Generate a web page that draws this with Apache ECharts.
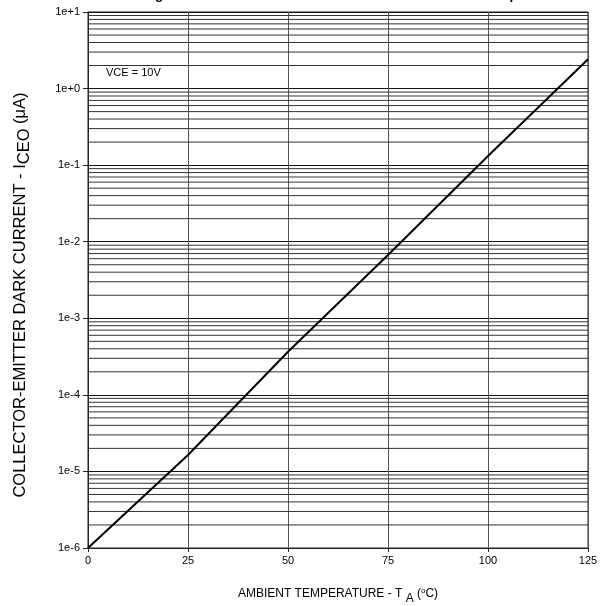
<!DOCTYPE html>
<html>
<head>
<meta charset="utf-8">
<script src="https://cdn.jsdelivr.net/npm/echarts@6/dist/echarts.min.js"></script>
<style>
  html, body { margin: 0; padding: 0; background: #fff; }
  #chart { width: 603px; height: 606px; }
</style>
</head>
<body>
<div id="chart"></div>
<script>
// Data
const temps = [0, 25, 50, 75, 100, 125];                 // ambient temperature, °C
const iceo  = [1e-6, 1.64e-5, 3.66e-4, 6.7e-3, 0.1315, 2.41]; // dark current, µA
const xTicks = [0, 25, 50, 75, 100, 125];
const yMin = 1e-6, yMax = 10;
const minorMultipliers = [2, 3, 4, 5, 6, 7, 8, 9];
const decadeExponents = [-6, -5, -4, -3, -2, -1, 0];

// minor log gridline values (2..9 x 10^k)
const minorGrid = [];
decadeExponents.forEach(e => {
  minorMultipliers.forEach(m => minorGrid.push([0, m * Math.pow(10, e)]));
});

const font = 'Liberation Sans, Arial, sans-serif';
const chart = echarts.init(document.getElementById('chart'), null, { renderer: 'canvas' });

chart.setOption({
  backgroundColor: '#fff',
  animation: false,
  grid: {
    left: 88, right: 15, top: 12, bottom: 58,
    outerBoundsMode: 'none',
    containLabel: false,
    show: true, borderColor: '#222', borderWidth: 1, backgroundColor: 'transparent'
  },
  xAxis: {
    type: 'value',
    min: 0, max: 125, interval: 25,
    name: '{n|AMBIENT TEMPERATURE - T}{sub| A}{n| (}{sup|o}{n|C)}',
    nameLocation: 'middle',
    nameGap: 39,
    nameTextStyle: {
      fontFamily: font, color: '#000',
      rich: {
        n: { fontFamily: font, fontSize: 12, color: '#000', lineHeight: 14 },
        sub: { fontFamily: font, fontSize: 12, color: '#000', padding: [10, 0, 0, 0], lineHeight: 14 },
        sup: { fontFamily: font, fontSize: 8, color: '#000', padding: [0, 0, 6, 0], lineHeight: 10 }
      }
    },
    axisLine: { show: true, lineStyle: { color: '#222', width: 1 } },
    axisTick: { show: true, length: 4, lineStyle: { color: '#222' } },
    axisLabel: { fontFamily: font, fontSize: 11, color: '#000', margin: 7,
      formatter: v => xTicks.includes(v) ? String(v) : '' },
    splitLine: { show: true, lineStyle: { color: '#555', width: 1 } }
  },
  yAxis: {
    type: 'log',
    logBase: 10,
    min: yMin, max: yMax,
    splitNumber: 7,
    name: '{n|COLLECTOR-EMITTER DARK CURRENT - I}{sub|CEO}{n| (μA)}',
    nameLocation: 'middle',
    nameGap: 59,
    nameTextStyle: {
      fontFamily: font, color: '#000',
      padding: [0, 30, 0, 0],
      rich: {
        n: { fontFamily: font, fontSize: 16.5, color: '#000', lineHeight: 18 },
        sub: { fontFamily: font, fontSize: 16.5, color: '#000', padding: [9, 0, 0, 0], lineHeight: 18 }
      }
    },
    axisLine: { show: true, lineStyle: { color: '#222', width: 1 } },
    axisTick: { show: true, length: 5, lineStyle: { color: '#222' } },
    axisLabel: {
      fontFamily: font, fontSize: 11, color: '#000', margin: 8,
      formatter: v => {
        const e = Math.round(Math.log10(v));
        return '1e' + (e >= 0 ? '+' : '') + e;
      }
    },
    splitLine: { show: true, lineStyle: { color: '#111', width: 1 } }
  },
  graphic: [
    {
      type: 'text',
      x: 143, y: -12,
      silent: true,
      style: {
        text: 'Figure 4. Collector-Emitter Dark Current vs. Ambient Temperature',
        font: 'bold 13.5px Liberation Sans, Arial, sans-serif',
        fill: '#000', textVerticalAlign: 'top', verticalAlign: 'top'
      }
    },
    {
      type: 'text',
      left: 106, top: 67,
      style: { text: 'VCE = 10V', fontFamily: font, fontSize: 11, fill: '#000' }
    }
  ],
  series: [
    {
      type: 'custom',
      silent: true,
      data: minorGrid,
      encode: { x: 0, y: 1 },
      z: 1,
      renderItem: (params, api) => {
        const p = api.coord([api.value(0), api.value(1)]);
        const cs = params.coordSys;
        return {
          type: 'line',
          shape: { x1: cs.x, y1: p[1], x2: cs.x + cs.width, y2: p[1] },
          style: { stroke: '#333', lineWidth: 1 }
        };
      }
    },
    {
      type: 'line',
      data: temps.map((t, i) => [t, iceo[i]]),
      showSymbol: false,
      symbol: 'none',
      lineStyle: { color: '#000', width: 2 },
      z: 5
    }
  ]
});
</script>
</body>
</html>
